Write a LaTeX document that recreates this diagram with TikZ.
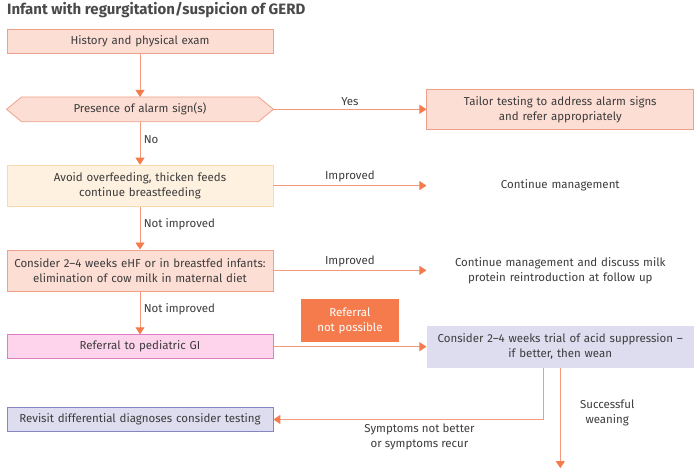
\documentclass[tikz,border=0pt]{standalone}
\usepackage{fontspec}
\setmainfont{Fira Sans}
\usepackage{tikz}
\usetikzlibrary{arrows.meta,positioning,backgrounds}
\definecolor{Ink}{HTML}{3C3C3C}
\definecolor{TitleInk}{HTML}{4A4A4A}
\definecolor{Salmon}{HTML}{F0A08A}
\definecolor{PaleSalmon}{HTML}{FDDED4}
\definecolor{Peach}{HTML}{FAD9B2}
\definecolor{PalePeach}{HTML}{FEF1E0}
\definecolor{Magenta}{HTML}{DF7CC3}
\definecolor{PalePink}{HTML}{FDD4EC}
\definecolor{Violet}{HTML}{8585C2}
\definecolor{PaleViolet}{HTML}{DDDDEF}
\definecolor{Orange}{HTML}{F57B4C}
\definecolor{Wire}{HTML}{F59A7C}
\tikzset{
  base/.style={align=center,minimum height=24pt,text width=256pt,inner xsep=5pt,
               inner ysep=2pt,font=\fontsize{11.5}{15}\selectfont,text=Ink,line width=0.8pt},
  salmonbox/.style={base,draw=Salmon,fill=PaleSalmon},
  peachbox/.style={base,draw=Peach,fill=PalePeach},
  pinkbox/.style={base,draw=Magenta,fill=PalePink},
  violetbox/.style={base,draw=Violet,fill=PaleViolet},
  acidbox/.style={base,fill=PaleViolet},
  hexline/.style={draw=Salmon,fill=PaleSalmon,line width=0.8pt},
  plain/.style={base,text width=257pt},
  notpossible/.style={align=center,fill=Orange,text=white,text width=88pt,inner xsep=5pt,
               minimum height=43pt,font=\fontsize{11.5}{15}\selectfont},
  title/.style={font=\fontsize{15}{18}\selectfont\bfseries,text=TitleInk,inner sep=0pt},
  flow/.style={-{Triangle[length=7pt,width=9pt,color=Orange]},draw=Wire,line width=0.9pt},
  lbl/.style={font=\fontsize{11.5}{15}\selectfont,text=Ink,align=center}
}
\begin{document}
\begin{tikzpicture}[node distance=43pt and 153pt]
  \useasboundingbox (0,0) rectangle (698pt,-472pt);
  \node[title,anchor=west] (title) at (7pt,-10pt) {Infant with regurgitation/suspicion of GERD};

  \node[salmonbox] (history) at (140pt,-41.5pt) {History and physical exam};
  \node[base,below=of history] (alarm) {Presence of alarm sign(s)};
  \node[salmonbox,text width=257pt,minimum height=40pt,right=of alarm] (tailor) {Tailor testing to address alarm signs\\and refer appropriately};
  \node[peachbox,minimum height=41pt,below=of alarm] (avoid) {Avoid overfeeding, thicken feeds\\continue breastfeeding};
  \node[plain,right=of avoid] (continue) {Continue management};
  \node[salmonbox,minimum height=41pt,below=of avoid] (ehf) {Consider 2--4 weeks eHF or in breastfed infants:\\elimination of cow milk in maternal diet};
  \node[plain,right=of ehf] (discuss) {Continue management and discuss milk\\protein reintroduction at follow up};
  \node[pinkbox,below=of ehf] (referral) {Referral to pediatric GI};
  \node[acidbox,text width=257pt,minimum height=42pt,right=of referral] (acid) {Consider 2--4 weeks trial of acid suppression --\\if better, then wean};
  \node[violetbox,below=48pt of referral] (revisit) {Revisit differential diagnoses consider testing};
  \coordinate[below=100pt of acid.south] (wean);

  % hexagon behind the alarm node
  \begin{scope}[on background layer]
    \draw[hexline] (alarm.west) -- ([xshift=15pt]alarm.north west) -- ([xshift=-15pt]alarm.north east)
      -- (alarm.east) -- ([xshift=-15pt]alarm.south east) -- ([xshift=15pt]alarm.south west) -- cycle;
  \end{scope}

  \draw[flow] (history) -- (alarm);
  \draw[flow] (alarm) -- node[lbl,above]{Yes} (tailor);
  \draw[flow] (alarm) -- node[lbl,right,yshift=4pt]{No} (avoid);
  \draw[flow] (avoid) -- node[lbl,above]{Improved} (continue);
  \draw[flow] (avoid) -- node[lbl,right,yshift=4pt]{Not improved} (ehf);
  \draw[flow] (ehf) -- node[lbl,above]{Improved} (discuss);
  \draw[flow] (ehf) -- node[lbl,right,yshift=4pt]{Not improved} (referral);
  \draw[flow] (referral) -- node[notpossible,above=4pt]{Referral\\not possible} (acid);
  \draw[flow] ([xshift=-16.5pt]acid.south) |- node[lbl,below=1pt,pos=0.73]{Symptoms not better\\or symptoms recur} (revisit);
  \draw[flow] (acid.south) -- node[lbl,right=16pt,yshift=5pt]{Successful\\weaning} (wean);
\end{tikzpicture}
\end{document}
